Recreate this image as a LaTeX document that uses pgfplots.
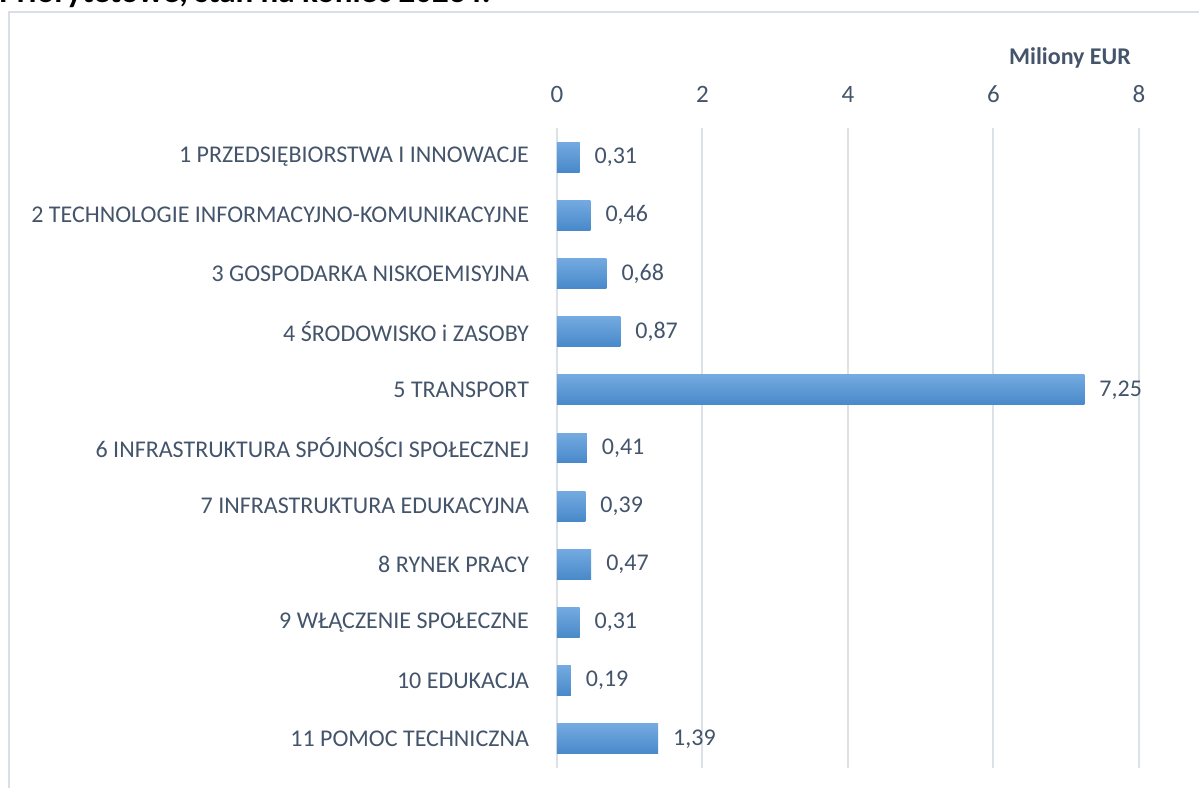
\documentclass[border=0pt]{standalone}
\usepackage{pgfplots}
\pgfplotsset{compat=1.18}
\usepackage{fontspec}
\setmainfont{Carlito}
\definecolor{txt}{HTML}{44546A}
\definecolor{grd}{HTML}{DCE1E8}
\definecolor{bartop}{HTML}{74AAE0}
\definecolor{barbot}{HTML}{4889CA}
\definecolor{frm}{HTML}{DADFE6}
\begin{document}
\begin{tikzpicture}[x=1pt,y=1pt]
\useasboundingbox (-278.5,-9.5) rectangle (321,384);
\draw[frm, line width=0.6pt] (-274,-20) -- (-274,378) -- (330,378);
\node[anchor=base west, font=\bfseries\fontsize{16.5}{18}\selectfont, inner sep=0pt] at (-279,382.5) {Priorytetowe, stan na koniec 2023 r.};
\begin{axis}[
  at={(0,0)}, anchor=south west,
  scale only axis, width=291pt, height=320pt,
  xbar, bar width=0.515, bar shift=0pt,
  xmin=0, xmax=8,
  ymin=-0.5, ymax=10.5, y dir=reverse,
  xtick={0,2,4,6,8},
  xticklabel pos=top,
  ytick={0,...,10},
  yticklabels={1 PRZEDSIĘBIORSTWA I INNOWACJE,2 TECHNOLOGIE INFORMACYJNO-KOMUNIKACYJNE,3 GOSPODARKA NISKOEMISYJNA,4 ŚRODOWISKO i ZASOBY,5 TRANSPORT\ ,6 INFRASTRUKTURA SPÓJNOŚCI SPOŁECZNEJ,7 INFRASTRUKTURA EDUKACYJNA,8 RYNEK PRACY,9 WŁĄCZENIE SPOŁECZNE,10 EDUKACJA,11 POMOC TECHNICZNA},
  axis line style={draw=none},
  major tick length=0pt,
  xmajorgrids, grid style={grd, line width=1pt},
  x tick label style={font=\fontsize{12.5}{14}\selectfont, text=txt, yshift=9pt},
  y tick label style={font=\fontsize{12}{14}\selectfont, text=txt, xshift=-10.5pt},
  /pgf/number format/assume math mode=true,
  nodes near coords,
  nodes near coords style={font=\fontsize{12}{14}\selectfont, text=txt, xshift=4pt,
    /pgf/number format/fixed, /pgf/number format/fixed zerofill, /pgf/number format/precision=2, /pgf/number format/use comma},
  every axis plot/.append style={draw=none, top color=bartop, bottom color=barbot},
  clip=false,
]
\addplot coordinates {(0.31,0)};
\addplot coordinates {(0.46,1)};
\addplot coordinates {(0.68,2)};
\addplot coordinates {(0.87,3)};
\addplot coordinates {(7.25,4)};
\addplot coordinates {(0.41,5)};
\addplot coordinates {(0.39,6)};
\addplot coordinates {(0.47,7)};
\addplot coordinates {(0.31,8)};
\addplot coordinates {(0.19,9)};
\addplot coordinates {(1.39,10)};
\end{axis}
\node[font=\bfseries\fontsize{12}{14}\selectfont, text=txt] at (256.5,355) {Miliony EUR};
\end{tikzpicture}
\end{document}
